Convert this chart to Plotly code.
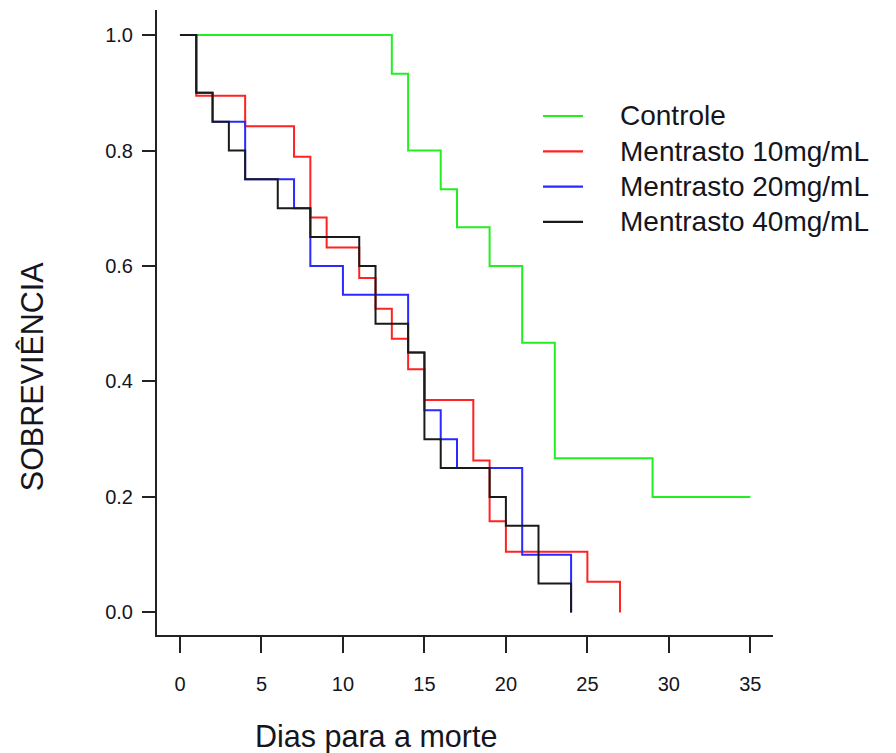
import plotly.graph_objects as go

# Kaplan-Meier step curves (time in days, survival)
controle_t = [0, 13, 14, 16, 17, 19, 21, 23, 29, 35]
controle_s = [1.0, 0.933, 0.800, 0.733, 0.667, 0.600, 0.467, 0.267, 0.200, 0.200]

m10_t = [0, 1, 4, 7, 8, 9, 11, 12, 13, 14, 15, 18, 19, 20, 25, 27]
m10_s = [1.0, 0.895, 0.842, 0.789, 0.684, 0.632, 0.579, 0.526, 0.474, 0.421,
         0.368, 0.263, 0.158, 0.105, 0.053, 0.0]

m20_t = [0, 1, 2, 4, 7, 8, 10, 14, 15, 16, 17, 21, 24]
m20_s = [1.0, 0.90, 0.85, 0.75, 0.70, 0.60, 0.55, 0.45, 0.35, 0.30, 0.25, 0.10, 0.0]

m40_t = [0, 1, 2, 3, 4, 6, 8, 11, 12, 14, 15, 16, 19, 20, 22, 24]
m40_s = [1.0, 0.90, 0.85, 0.80, 0.75, 0.70, 0.65, 0.60, 0.50, 0.45, 0.30,
         0.25, 0.20, 0.15, 0.05, 0.0]

names = ["Controle", "Mentrasto 10mg/mL", "Mentrasto 20mg/mL", "Mentrasto 40mg/mL"]
colors = ["#22ee22", "#ff2222", "#2a2aff", "#1a1a1a"]

x_ticks = [0, 5, 10, 15, 20, 25, 30, 35]
y_ticks = [0.0, 0.2, 0.4, 0.6, 0.8, 1.0]
y_ticklabels = ["0.0", "0.2", "0.4", "0.6", "0.8", "1.0"]

series = [(controle_t, controle_s), (m10_t, m10_s), (m20_t, m20_s), (m40_t, m40_s)]

FONT = "Liberation Sans, Arial, sans-serif"
TXT = "#151520"

fig = go.Figure()
for (t, s), name, col in zip(series, names, colors):
    fig.add_trace(go.Scatter(
        x=t, y=s, mode="lines", name=name,
        line=dict(color=col, width=2, shape="hv"),
        showlegend=False,
    ))

# Legend drawn as line samples + labels (paper coordinates), R-style
LEG_X0, LEG_X1, LEG_TX = 0.6266, 0.6916, 0.7484
LEG_Y0, LEG_DY = 0.8304, 0.0565
shapes = []
annotations = []
for i, (name, col) in enumerate(zip(names, colors)):
    yy = LEG_Y0 - i * LEG_DY
    shapes.append(dict(type="line", xref="paper", yref="paper",
                       x0=LEG_X0, x1=LEG_X1, y0=yy, y1=yy,
                       line=dict(color=col, width=2.2)))
    annotations.append(dict(text=name, xref="paper", yref="paper",
                            x=LEG_TX, y=yy, xanchor="left", yanchor="middle",
                            showarrow=False,
                            font=dict(size=28, family=FONT, color=TXT)))

annotations += [
    dict(text="Dias para a morte", xref="paper", yref="paper",
         x=0.356, y=-0.162, xanchor="center", yanchor="middle",
         showarrow=False, font=dict(size=30.5, family=FONT, color=TXT)),
    dict(text="SOBREVIÊNCIA", xref="paper", yref="paper",
         x=-0.203, y=0.414, xanchor="center", yanchor="middle",
         textangle=-90, showarrow=False,
         font=dict(size=30.5, family=FONT, color=TXT)),
]

fig.update_layout(
    width=888, height=745,
    margin=dict(l=149, r=123, t=2, b=118),
    paper_bgcolor="white", plot_bgcolor="white",
    font=dict(family=FONT, color=TXT),
    showlegend=False,
    xaxis=dict(
        range=[-1.41, 36.39], tickvals=x_ticks,
        showgrid=False, zeroline=False,
        showline=True, linecolor="#222", linewidth=2,
        ticks="outside", ticklen=16, tickwidth=2, tickcolor="#222",
        tickfont=dict(size=20, family=FONT, color=TXT),
        ticklabelstandoff=14,
    ),
    yaxis=dict(
        range=[-0.039, 1.0433], tickvals=y_ticks, ticktext=y_ticklabels,
        showgrid=False, zeroline=False,
        showline=True, linecolor="#222", linewidth=2,
        ticks="outside", ticklen=13, tickwidth=2, tickcolor="#222",
        tickfont=dict(size=20, family=FONT, color=TXT),
        ticklabelstandoff=5,
    ),
    shapes=shapes,
    annotations=annotations,
)

fig.write_html("out.html")
